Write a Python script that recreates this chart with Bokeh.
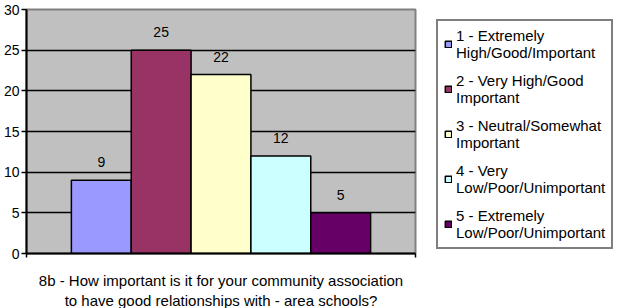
from bokeh.plotting import figure
from bokeh.models import (ColumnDataSource, Range1d, FixedTicker, Legend, LegendItem)
from bokeh.embed import file_html
from bokeh.resources import INLINE
from bokeh.core.properties import value

# ---- data ----
categories = [
    "1 - Extremely\nHigh/Good/Important",
    "2 - Very High/Good\nImportant",
    "3 - Neutral/Somewhat\nImportant",
    "4 - Very\nLow/Poor/Unimportant",
    "5 - Extremely\nLow/Poor/Unimportant",
]
counts = [9, 25, 22, 12, 5]
colors = ["#9999FF", "#993366", "#FFFFCC", "#CCFFFF", "#660066"]
y_ticks = [0, 5, 10, 15, 20, 25, 30]
x_title = ("8b - How important is it for your community association\n"
           "to have good relationships with - area schools?")

FONT = "Liberation Sans"
gap = 0.75  # Excel gap width 150% split on both sides
xs = [gap + i + 0.5 for i in range(len(counts))]

src = ColumnDataSource(dict(x=xs, top=counts, color=colors, label=categories,
                            txt=[str(c) for c in counts]))

p = figure(frame_width=389, frame_height=244, output_backend="svg",
           toolbar_location=None,
           x_range=Range1d(0, 2 * gap + len(counts)), y_range=Range1d(0, 30),
           min_border_left=26, min_border_top=9, min_border_bottom=47,
           min_border_right=198)
p.background_fill_color = "#C0C0C0"
p.border_fill_color = "white"
p.outline_line_color = "#808080"
p.outline_line_width = 2

r = p.vbar(x="x", top="top", width=1.0, bottom=0, source=src,
           fill_color="color", line_color="black", line_width=1.5)

p.text(x="x", y="top", text="txt", source=src, text_align="center",
       text_baseline="middle", y_offset=-18, text_font=value(FONT),
       text_font_size="14px", text_color="#000000")

# axes
p.yaxis.ticker = FixedTicker(ticks=y_ticks)
p.yaxis.major_tick_out = 5
p.yaxis.major_tick_in = 0
p.yaxis.minor_tick_line_color = None
p.yaxis.axis_line_color = "black"
p.yaxis.axis_line_width = 2
p.yaxis.major_tick_line_width = 1.5
p.yaxis.major_label_text_font = FONT
p.yaxis.major_label_text_font_size = "14px"
p.yaxis.major_label_text_color = "#000000"
p.yaxis.major_label_standoff = 2

p.xaxis.ticker = FixedTicker(ticks=[0, 2 * gap + len(counts)])
p.xaxis.major_label_overrides = {0: " ", 2 * gap + len(counts): " "}
p.xaxis.major_label_text_font_size = "1px"
p.xaxis.major_tick_out = 4
p.xaxis.major_tick_in = 0
p.xaxis.major_tick_line_width = 1.5
p.xaxis.minor_tick_line_color = None
p.xaxis.axis_line_color = "black"
p.xaxis.axis_line_width = 2
p.xaxis.axis_label = x_title
p.xaxis.axis_label_text_font = FONT
p.xaxis.axis_label_text_font_size = "15px"
p.xaxis.axis_label_text_font_style = "normal"
p.xaxis.axis_label_text_color = "#000000"
p.xaxis.axis_label_standoff = 5

p.xgrid.grid_line_color = None
p.ygrid.ticker = FixedTicker(ticks=y_ticks[1:-1])
p.ygrid.grid_line_color = "black"
p.ygrid.grid_line_width = 1.5

legend = Legend(items=[LegendItem(label=c, renderers=[r], index=i)
                       for i, c in enumerate(categories)])
legend.location = (21, 4)
legend.border_line_color = "black"
legend.border_line_width = 2
legend.background_fill_color = "white"
legend.background_fill_alpha = 1
legend.glyph_width = 8
legend.glyph_height = 8
legend.label_text_font = FONT
legend.label_text_font_size = "15px"
legend.label_text_color = "#000000"
legend.label_standoff = 4
legend.padding = 6
legend.spacing = 11
legend.margin = 0
p.add_layout(legend, "right")

open("out.html", "w").write(file_html(p, INLINE))
